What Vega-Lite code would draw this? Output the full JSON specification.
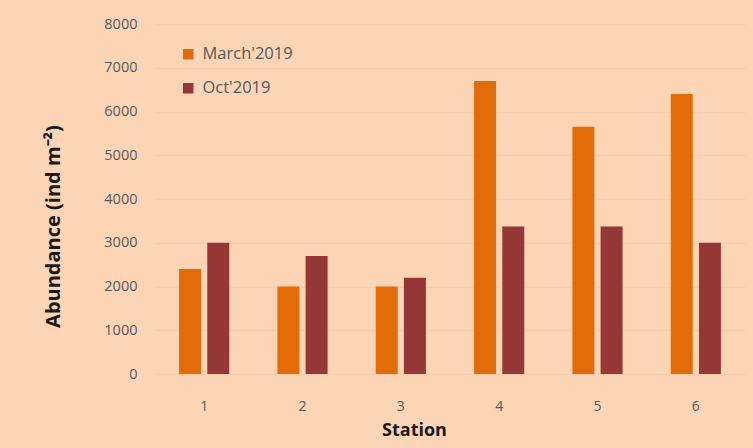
{
  "$schema": "https://vega.github.io/schema/vega-lite/v6.json",
  "autosize": {"type": "none"},
  "width": 590,
  "height": 350,
  "padding": {"left": 155, "top": 24, "right": 8, "bottom": 74},
  "background": "#FBD5B5",
  "config": {
    "view": {"stroke": null},
    "font": "Open Sans"
  },
  "data": {
    "values": [
      {"Station": "1", "Season": "March'2019", "Abundance": 2400},
      {"Station": "1", "Season": "Oct'2019", "Abundance": 3000},
      {"Station": "2", "Season": "March'2019", "Abundance": 2000},
      {"Station": "2", "Season": "Oct'2019", "Abundance": 2700},
      {"Station": "3", "Season": "March'2019", "Abundance": 2000},
      {"Station": "3", "Season": "Oct'2019", "Abundance": 2200},
      {"Station": "4", "Season": "March'2019", "Abundance": 6700},
      {"Station": "4", "Season": "Oct'2019", "Abundance": 3370},
      {"Station": "5", "Season": "March'2019", "Abundance": 5650},
      {"Station": "5", "Season": "Oct'2019", "Abundance": 3370},
      {"Station": "6", "Season": "March'2019", "Abundance": 6400},
      {"Station": "6", "Season": "Oct'2019", "Abundance": 3000}
    ]
  },
  "mark": {"type": "bar"},
  "encoding": {
    "x": {
      "field": "Station",
      "type": "nominal",
      "scale": {"paddingInner": 0.49, "paddingOuter": 0.245},
      "axis": {
        "title": "Station",
        "titleFontSize": 18,
        "titleFontWeight": "bold",
        "titleColor": "#1a1a1a",
        "titleX": 259,
        "titleY": 47,
        "titleAlign": "center",
        "labelAngle": 0,
        "labelFontSize": 14,
        "labelColor": "#595959",
        "labelPadding": 25,
        "ticks": false,
        "domain": false,
        "grid": false
      }
    },
    "xOffset": {
      "field": "Season",
      "type": "nominal",
      "scale": {"paddingInner": 0.22, "paddingOuter": 0}
    },
    "y": {
      "field": "Abundance",
      "type": "quantitative",
      "scale": {"domain": [0, 8000]},
      "axis": {
        "title": "Abundance  (ind m⁻²)",
        "titleFontSize": 20,
        "titleFontWeight": "bold",
        "titleColor": "#1a1a1a",
        "titlePadding": 40,
        "titleY": 202,
        "format": "d",
        "values": [0, 1000, 2000, 3000, 4000, 5000, 6000, 7000, 8000],
        "labelFontSize": 14.5,
        "labelColor": "#595959",
        "labelPadding": 18,
        "ticks": false,
        "domain": false,
        "grid": true,
        "gridColor": "#F3CDAE",
        "gridWidth": 1.5
      }
    },
    "color": {
      "field": "Season",
      "type": "nominal",
      "scale": {"domain": ["March'2019", "Oct'2019"], "range": ["#E36C09", "#953735"]},
      "legend": {
        "title": null,
        "orient": "none",
        "legendX": 25,
        "legendY": 22,
        "symbolType": "square",
        "symbolSize": 110,
        "labelFontSize": 16.5,
        "labelColor": "#595959",
        "rowPadding": 17,
        "labelOffset": 6
      }
    }
  }
}
